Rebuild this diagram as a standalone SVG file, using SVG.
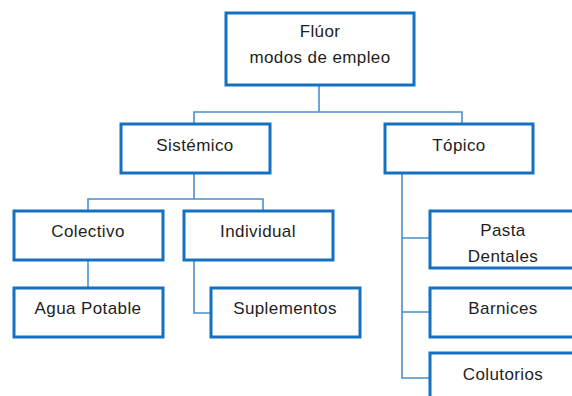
<svg xmlns="http://www.w3.org/2000/svg" width="572" height="396" viewBox="0 0 572 396">
<style>
.box{fill:#fff;stroke:#1570c0;stroke-width:3}
.t{font-family:"Liberation Sans",Arial,sans-serif;font-size:17px;fill:#1e1e1e;text-anchor:middle;letter-spacing:0.4px}
.c{fill:none;stroke:#4a8fd0;stroke-width:1.6}
</style>
<rect width="572" height="396" fill="#fff"/>
<g id="connectors">
<path class="c" d="M319 86V112M194 123V112H462V123"/>
<path class="c" d="M194 173V199M88 210V199H263V210"/>
<path class="c" d="M88 261V287"/>
<path class="c" d="M194 261V313H210"/>
<path class="c" d="M402 173V378H429M402 238H429M402 312H429"/>
</g>
<g id="root"><rect class="box" x="226" y="13" width="188" height="72"/><text class="t" x="320" y="37">Flúor</text><text class="t" x="320" y="63">modos de empleo</text></g>
<g id="sistemico"><rect class="box" x="121" y="124" width="149" height="49"/><text class="t" x="195" y="151">Sistémico</text></g>
<g id="topico"><rect class="box" x="385" y="124" width="148" height="49"/><text class="t" x="459" y="151">Tópico</text></g>
<g id="colectivo"><rect class="box" x="14" y="211" width="149" height="49"/><text class="t" x="88" y="237">Colectivo</text></g>
<g id="individual"><rect class="box" x="184" y="211" width="149" height="49"/><text class="t" x="258" y="237">Individual</text></g>
<g id="agua"><rect class="box" x="14" y="288" width="149" height="49"/><text class="t" x="88" y="314">Agua Potable</text></g>
<g id="suplementos"><rect class="box" x="211" y="288" width="149" height="49"/><text class="t" x="285" y="314">Suplementos</text></g>
<g id="pasta"><rect class="box" x="430" y="211" width="150" height="57"/><text class="t" x="503" y="236">Pasta</text><text class="t" x="503" y="262">Dentales</text></g>
<g id="barnices"><rect class="box" x="430" y="288" width="150" height="49"/><text class="t" x="503" y="314">Barnices</text></g>
<g id="colutorios"><rect class="box" x="430" y="353" width="150" height="60"/><text class="t" x="503" y="380">Colutorios</text></g>
</svg>
